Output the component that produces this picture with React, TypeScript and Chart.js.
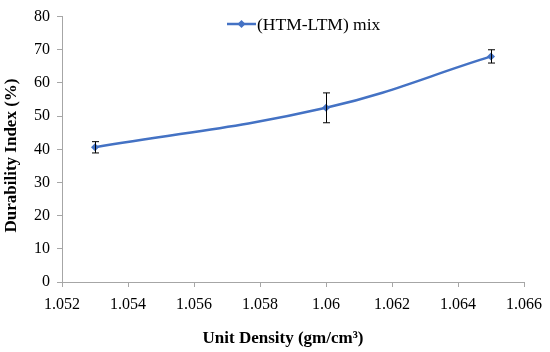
import React, { useEffect, useRef } from "react";
import { Chart, registerables } from "chart.js";

Chart.register(...registerables);

const densities = [1.053, 1.06, 1.065];
const durability = [40.6, 52.5, 68.0];
const errors = [1.7, 4.5, 2.0];
const seriesLabel = "(HTM-LTM) mix";
const xTitle = "Unit Density (gm/cm\u00B3)";
const yTitle = "Durability Index (%)";

const BLUE = "#4472C4";
const AXIS = "#a6a6a6";
const FONT = "'Liberation Serif', 'Times New Roman', serif";

const errorBarPlugin = {
  id: "errorBars",
  afterDatasetsDraw(chart: any) {
    const ctx = chart.ctx;
    const xs = chart.scales.x;
    const ys = chart.scales.y;
    ctx.save();
    ctx.strokeStyle = "#000";
    ctx.lineWidth = 1;
    densities.forEach((d, i) => {
      const x = Math.round(xs.getPixelForValue(d)) + 0.5;
      const top = ys.getPixelForValue(durability[i] + errors[i]);
      const bot = ys.getPixelForValue(durability[i] - errors[i]);
      ctx.beginPath();
      ctx.moveTo(x, top);
      ctx.lineTo(x, bot);
      ctx.moveTo(x - 3.5, top);
      ctx.lineTo(x + 3.5, top);
      ctx.moveTo(x - 3.5, bot);
      ctx.lineTo(x + 3.5, bot);
      ctx.stroke();
    });
    ctx.restore();
  },
};

const textPlugin = {
  id: "innerLegend",
  afterDraw(chart: any) {
    const ctx = chart.ctx;
    const y = 24;
    const x0 = 227;
    const x1 = 256;
    ctx.save();
    ctx.strokeStyle = BLUE;
    ctx.lineWidth = 2.5;
    ctx.beginPath();
    ctx.moveTo(x0, y);
    ctx.lineTo(x1, y);
    ctx.stroke();
    const cx = (x0 + x1) / 2;
    ctx.fillStyle = BLUE;
    ctx.beginPath();
    ctx.moveTo(cx, y - 4);
    ctx.lineTo(cx + 4, y);
    ctx.lineTo(cx, y + 4);
    ctx.lineTo(cx - 4, y);
    ctx.closePath();
    ctx.fill();
    ctx.fillStyle = "#000";
    ctx.font = `17.5px ${FONT}`;
    ctx.textBaseline = "middle";
    ctx.textAlign = "left";
    ctx.fillText(chart.data.datasets[0].label, x1 + 1, y + 1);
    // x-axis title
    ctx.font = `bold 17px ${FONT}`;
    ctx.textAlign = "center";
    ctx.fillText(xTitle, 283, 339);
    // y-axis title
    ctx.translate(12, 155.5);
    ctx.rotate(-Math.PI / 2);
    ctx.fillText(yTitle, 0, 0);
    ctx.restore();
  },
};

export default function App() {
  const ref = useRef<HTMLCanvasElement | null>(null);
  useEffect(() => {
    if (!ref.current) return;
    const chart = new Chart(ref.current, {
      type: "line",
      data: {
        datasets: [
          {
            label: seriesLabel,
            data: densities.map((d, i) => ({ x: d, y: durability[i] })),
            borderColor: BLUE,
            backgroundColor: BLUE,
            borderWidth: 2.5,
            tension: 0.4,
            pointStyle: "rectRot",
            pointRadius: 4,
            pointBorderWidth: 0,
            fill: false,
          },
        ],
      },
      options: {
        animation: false,
        responsive: false,
        maintainAspectRatio: false,
        layout: { padding: { left: 0, top: 11, right: 23, bottom: 0 } },
        plugins: { legend: { display: false }, tooltip: { enabled: false } },
        scales: {
          x: {
            type: "linear",
            min: 1.052,
            max: 1.066,
            ticks: {
              stepSize: 0.002,
              color: "#000",
              padding: 8,
              maxRotation: 0,
              font: { family: FONT, size: 16 },
              callback: (v: any) => parseFloat(Number(v).toFixed(3)).toString(),
            },
            grid: { drawOnChartArea: false, drawTicks: true, tickLength: 5, color: AXIS },
            border: { color: AXIS, width: 1 },
            title: { display: false, text: xTitle },
            afterFit: (s: any) => {
              s.height = 70;
            },
          },
          y: {
            min: 0,
            max: 80,
            ticks: {
              stepSize: 10,
              color: "#000",
              padding: 7,
              font: { family: FONT, size: 16 },
            },
            grid: { drawOnChartArea: false, drawTicks: true, tickLength: 5, color: AXIS },
            border: { color: AXIS, width: 1 },
            title: { display: false, text: yTitle },
            afterFit: (s: any) => {
              s.width = 62;
            },
          },
        },
      } as any,
      plugins: [errorBarPlugin, textPlugin],
    });
    return () => chart.destroy();
  }, []);
  return (
    <div style={{ position: "fixed", left: 0, top: 0, width: 550, height: 352, background: "#fff" }}>
      <canvas ref={ref} width={550} height={352} style={{ width: 550, height: 352 }} />
    </div>
  );
}
